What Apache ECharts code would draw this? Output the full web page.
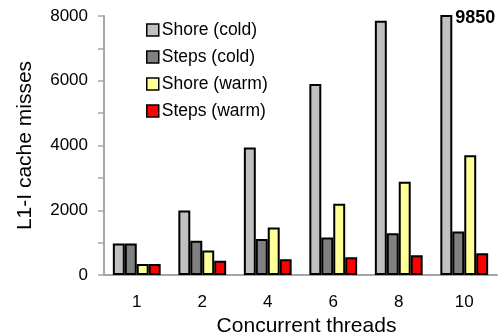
<!DOCTYPE html>
<html><head><meta charset="utf-8">
<script src="https://cdn.jsdelivr.net/npm/echarts@6/dist/echarts.min.js"></script>
<style>html,body{margin:0;padding:0;background:#fff}#c{width:503px;height:335px}</style>
</head><body><div id="c"></div>
<script>
var categories = ['1', '2', '4', '6', '8', '10'];
var shoreCold = [970, 1990, 3940, 5900, 7850, 9850];
var stepsCold = [970, 1060, 1110, 1160, 1290, 1340];
var shoreWarm = [340, 760, 1470, 2200, 2880, 3700];
var stepsWarm = [340, 440, 490, 550, 610, 670];
var yTicks = [0, 2000, 4000, 6000, 8000];

var font = 'Liberation Sans, Arial, sans-serif';
function bar(name, data, color) {
  return {
    name: name, type: 'bar', data: data, barGap: '0%', barCategoryGap: '27%',
    clip: true,
    itemStyle: { color: color, borderColor: '#000', borderWidth: 2 }
  };
}
var s1 = bar('Shore (cold)', shoreCold, '#c0c0c0');
s1.markPoint = {
  symbol: 'circle', symbolSize: 0,
  data: [{ coord: [5, yTicks[yTicks.length - 1]], value: shoreCold[5] }],
  label: { show: true, position: 'right', distance: 9, offset: [0, 2], formatter: '{c}',
    fontFamily: font, fontWeight: 'bold', fontSize: 18, color: '#000' }
};
var chart = echarts.init(document.getElementById('c'));
chart.setOption({
  animation: false,
  grid: { left: 104, right: 6, top: 16, bottom: 60, containLabel: false, outerBoundsMode: 'none' },
  legend: {
    orient: 'vertical', left: 141, top: 16, itemWidth: 12, itemHeight: 12, itemGap: 9,
    icon: 'rect',
    itemStyle: { borderColor: '#000', borderWidth: 1.5 },
    textStyle: { fontFamily: font, fontSize: 17.5, color: '#000', padding: [0, 0, 0, -2] },
    data: ['Shore (cold)', 'Steps (cold)', 'Shore (warm)', 'Steps (warm)']
  },
  xAxis: {
    type: 'category', data: categories,
    name: 'Concurrent threads', nameLocation: 'middle', nameGap: 34,
    nameTextStyle: { fontFamily: font, fontSize: 21, color: '#000', padding: [0, 0, 0, 12] },
    axisLine: { lineStyle: { color: '#a6a6a6', width: 2 } },
    axisTick: { show: false },
    axisLabel: { fontFamily: font, fontSize: 17, color: '#000', margin: 19 }
  },
  yAxis: {
    type: 'value', min: yTicks[0], max: yTicks[yTicks.length - 1], interval: 2000,
    name: 'L1-I cache misses', nameLocation: 'middle', nameGap: 68,
    nameTextStyle: { fontFamily: font, fontSize: 21, color: '#000' },
    axisLine: { show: true, lineStyle: { color: '#a6a6a6', width: 2 } },
    axisTick: { show: true, length: 6, lineStyle: { color: '#a6a6a6', width: 1.5 } },
    minorTick: { show: true, splitNumber: 2, length: 6, lineStyle: { color: '#a6a6a6', width: 1.5 } },
    splitLine: { show: false },
    axisLabel: { fontFamily: font, fontSize: 17, color: '#000', margin: 16,
      formatter: function (v) { return String(v); } }
  },
  series: [s1,
    bar('Steps (cold)', stepsCold, '#808080'),
    bar('Shore (warm)', shoreWarm, '#ffff99'),
    bar('Steps (warm)', stepsWarm, '#ff0000')]
});
</script></body></html>
